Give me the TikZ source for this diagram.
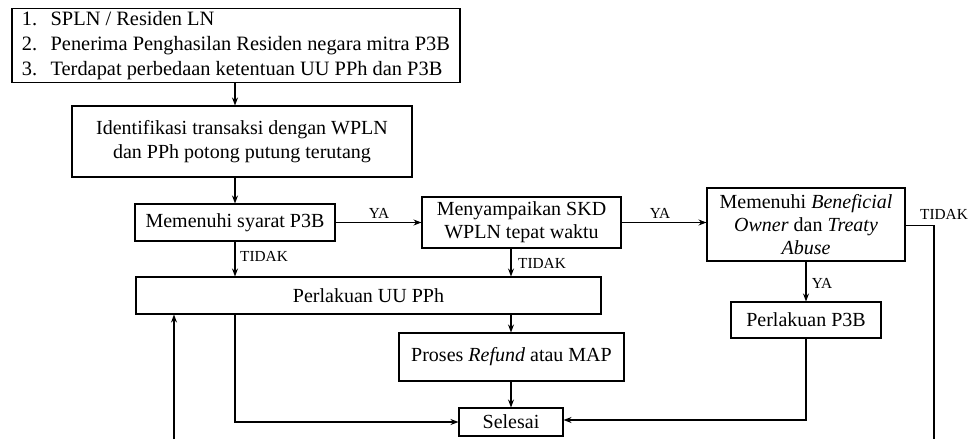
\documentclass[tikz,border=0pt]{standalone}
\usepackage{fontspec}
\setmainfont{Liberation Serif}
\usetikzlibrary{arrows.meta}
\begin{document}
\begin{tikzpicture}[x=0.75pt,y=-0.75pt,
  box/.style={draw, line width=0.8pt, inner sep=0pt, align=center,
    font=\fontsize{15}{17.5}\selectfont},
  conn/.style={line width=0.8pt},
  arr/.style={conn, -{Stealth[length=6pt,width=4.5pt]}},
  lbl/.style={font=\fontsize{11.5}{13}\selectfont, inner sep=0pt}]
\useasboundingbox (0,0) rectangle (970,439);
% nodes
\node[box, minimum width=336pt, minimum height=52.5pt,
  font=\fontsize{15.3}{18.5}\selectfont] (top) at (236,45.5)
  {\begin{tabular}{@{}l@{\hspace{10pt}}l@{}}
   1. & SPLN / Residen LN\\
   2. & Penerima Penghasilan Residen negara mitra P3B\\
   3. & Terdapat perbedaan ketentuan UU PPh dan P3B
   \end{tabular}};
\node[box, minimum width=255pt, minimum height=53.25pt] (ident) at (242,141.5)
  {Identifikasi transaksi dengan WPLN\\dan PPh potong putung terutang};
\node[box, minimum width=150pt, minimum height=27.75pt] (syarat) at (235,222.5)
  {Memenuhi syarat P3B};
\node[box, minimum width=149.25pt, minimum height=38.25pt] (skd) at (521.5,222.5)
  {Menyampaikan SKD\\WPLN tepat waktu};
\node[box, minimum width=148.5pt, minimum height=54.75pt] (bo) at (806,224.5)
  {Memenuhi \textit{Beneficial}\\\textit{Owner} dan \textit{Treaty}\\\textit{Abuse}};
\node[box, minimum width=348.75pt, minimum height=27.75pt] (uupph) at (368.5,295.5)
  {Perlakuan UU PPh};
\node[box, minimum width=168.75pt, minimum height=36pt] (refund) at (511.5,357)
  {Proses \textit{Refund} atau MAP};
\node[box, minimum width=78pt, minimum height=21pt] (selesai) at (511,422)
  {Selesai};
\node[box, minimum width=112.5pt, minimum height=27pt] (p3b) at (806,320)
  {Perlakuan P3B};
\coordinate (botR) at (934,439);
\coordinate (botL) at (174,439);
% connectors
\draw[arr] (top.south -| syarat) -- (ident.north -| syarat);
\draw[arr] (ident.south -| syarat) -- (syarat.north);
\draw[arr] (syarat.east) -- (skd.west);
\draw[arr] (skd.east) -- (skd.east -| bo.west);
\draw[arr] (syarat.south) -- (syarat.south |- uupph.north);
\draw[arr] (skd.south -| selesai) -- (uupph.north -| selesai);
\draw[arr] (uupph.south -| selesai) -- (refund.north -| selesai);
\draw[arr] (refund.south -| selesai) -- (selesai.north);
\draw[arr] (uupph.south -| syarat) |- (selesai.west);
\draw[arr] (bo.south) -- (p3b.north);
\draw[arr] (p3b.south) |- ([yshift=1.5pt]selesai.east);
\draw[conn] ([yshift=-1pt]bo.east) -| (botR);
\draw[arr] (botL) -- (botL |- uupph.south);
% labels
\node[lbl] at (379,213) {YA};
\node[lbl] at (660,213) {YA};
\node[lbl] at (264,256) {TIDAK};
\node[lbl] at (542,263) {TIDAK};
\node[lbl] at (822,283) {YA};
\node[lbl] at (944,214) {TIDAK};
\end{tikzpicture}
\end{document}
